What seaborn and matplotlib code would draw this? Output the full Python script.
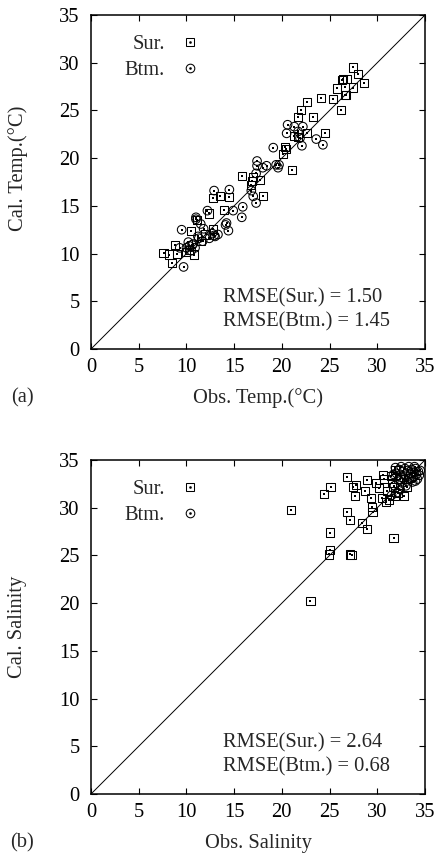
import matplotlib
matplotlib.use("Agg")
import matplotlib.pyplot as plt
from matplotlib.lines import Line2D
import seaborn as sns
import pandas as pd

# ---------------- data ----------------
# Panel (a): temperature (observed, calculated)
temp_sur_obs = [27.5, 28.0, 26.4, 26.8, 28.6, 27.5, 26.6, 25.8, 25.4, 26.6, 24.1, 22.6, 22.0, 26.2,
                21.7, 23.3, 24.5, 22.6, 21.3, 21.7, 20.1, 20.4, 21.1, 15.8, 16.9, 17.7, 16.8, 17.0,
                13.5, 14.5, 18.0, 12.8, 12.4, 13.9, 10.5, 12.8, 8.8, 7.6, 8.2, 8.5, 10.8, 9.0,
                11.1, 11.5, 10.3, 10.0, 12.0, 20.3, 26.3, 26.7]
temp_sur_cal = [29.5, 28.8, 28.3, 28.3, 27.9, 27.4, 27.5, 27.3, 26.2, 26.6, 26.3, 25.9, 25.0, 25.0,
                24.3, 24.3, 22.6, 22.6, 22.3, 22.2, 20.4, 21.0, 18.8, 18.1, 17.6, 17.7, 17.2, 18.0,
                16.0, 15.9, 16.0, 15.8, 14.2, 14.6, 12.4, 12.6, 10.9, 10.1, 9.9, 9.0, 9.9, 10.0,
                13.5, 11.3, 10.4, 10.2, 12.0, 21.2, 28.2, 26.6]
temp_btm_obs = [12.9, 14.5, 12.2, 14.9, 15.9, 15.8, 9.5, 11.0, 11.0, 11.5, 14.2, 14.4, 12.9, 13.3,
                9.7, 9.3, 10.0, 10.3, 10.7, 11.7, 12.4, 16.8, 17.3, 17.0, 17.4, 17.4, 18.0, 18.4,
                19.6, 19.4, 17.3, 20.6, 21.3, 20.5, 22.2, 22.1, 23.6, 24.3, 19.1, 19.7, 21.9, 21.7,
                11.2, 10.5, 10.9, 12.7, 13.0, 11.8, 10.2, 14.1, 10.6, 11.3]
temp_btm_cal = [16.6, 16.7, 14.5, 14.5, 14.9, 13.8, 12.5, 13.6, 13.8, 13.1, 13.2, 12.4, 11.9, 12.0,
                8.6, 10.6, 10.6, 10.8, 11.0, 11.3, 11.6, 16.6, 15.3, 16.0, 19.7, 19.2, 19.0, 19.2,
                19.0, 19.3, 18.4, 23.5, 23.3, 22.6, 23.3, 21.3, 22.0, 21.4, 21.1, 19.3, 22.1, 22.8,
                11.8, 10.3, 10.6, 12.1, 11.8, 12.6, 11.2, 13.0, 10.9, 11.6]

# Panel (b): salinity (observed, calculated)
sal_sur_obs = [21.0, 25.1, 24.4, 26.8, 27.5, 27.8, 27.7, 28.9, 28.7, 29.3, 29.9, 30.6, 30.7, 30.2,
               29.4, 29.5, 26.8, 27.1, 28.4, 28.9, 25.0, 31.7, 25.0, 24.9, 27.1, 27.3, 23.0, 33.1,
               32.8, 31.7, 31.9, 31.2, 30.9, 31.4, 31.9, 32.4, 31.0, 32.2, 30.5, 31.5]
sal_sur_cal = [29.8, 32.2, 31.4, 33.2, 32.2, 32.4, 31.2, 32.9, 31.8, 31.0, 32.6, 33.4, 33.0, 32.1,
               30.1, 29.6, 29.6, 28.7, 28.4, 27.8, 27.4, 26.8, 25.6, 25.1, 25.1, 25.0, 20.2, 32.2,
               31.2, 32.2, 31.2, 30.8, 30.6, 33.3, 34.0, 33.0, 31.8, 31.5, 31.0, 32.6]
sal_btm_obs = [32.0, 32.3, 32.5, 32.7, 32.9, 33.0, 33.2, 33.4, 33.5, 33.6, 33.8, 33.9, 34.0, 34.1,
               34.2, 34.3, 34.4, 33.1, 32.6, 33.7, 32.2, 31.8, 32.4, 31.7, 31.9, 33.3, 34.5, 32.8,
               33.6, 32.1, 31.5, 33.0, 34.0, 32.5, 33.9]
sal_btm_cal = [33.6, 34.0, 33.2, 33.8, 34.1, 33.4, 33.9, 33.1, 33.6, 34.0, 33.3, 33.7, 34.1, 33.5,
               33.0, 33.8, 33.4, 32.8, 32.6, 32.7, 32.9, 32.3, 31.9, 33.5, 34.2, 34.3, 33.9, 33.0,
               33.2, 31.6, 31.3, 32.3, 32.8, 34.3, 34.3]

series_labels = ["Sur.", "Btm."]
rmse_temp = ["1.50", "1.45"]
rmse_sal = ["2.64", "0.68"]
ticks = [0, 5, 10, 15, 20, 25, 30, 35]

# ---------------- style ----------------
sns.set_style("ticks")
plt.rcParams["font.family"] = ["Liberation Serif", "DejaVu Serif"]
plt.rcParams["mathtext.fontset"] = "stix"
FS = 14.8

W, H = 438, 856
fig = plt.figure(figsize=(W / 100, H / 100), dpi=100)

def px_axes(left, top, right, bottom):
    return fig.add_axes([left / W, 1 - bottom / H, (right - left) / W, (bottom - top) / H])

ax_a = px_axes(91, 15, 425, 349)
ax_b = px_axes(91, 460, 425, 794)

MS = 5.8  # marker size (points)

def draw(ax, sx, sy, bx, by, rmse, xlabel, ylabel, ylab_y):
    dfs = pd.DataFrame({"obs": sx, "cal": sy})
    dfb = pd.DataFrame({"obs": bx, "cal": by})
    ax.plot([0, 35], [0, 35], color="black", lw=0.7, zorder=1)
    sns.scatterplot(data=dfs, x="obs", y="cal", ax=ax, marker="s", s=MS ** 2,
                    facecolor="none", edgecolor="black", linewidth=0.75, zorder=2)
    sns.scatterplot(data=dfs, x="obs", y="cal", ax=ax, marker="s", s=0.6,
                    color="black", linewidth=0, zorder=2)
    sns.scatterplot(data=dfb, x="obs", y="cal", ax=ax, marker="o", s=(MS + 0.4) ** 2,
                    facecolor="none", edgecolor="black", linewidth=0.75, zorder=3)
    sns.scatterplot(data=dfb, x="obs", y="cal", ax=ax, marker="s", s=0.6,
                    color="black", linewidth=0, zorder=3)
    ax.set_xlim(0, 35)
    ax.set_ylim(0, 35)
    ax.set_xticks(ticks)
    ax.set_yticks(ticks)
    ax.set_xticklabels([str(t) for t in ticks])
    ax.set_yticklabels([str(t) for t in ticks])
    ax.tick_params(direction="in", length=4, width=0.8, top=True, right=True,
                   labelsize=FS, color="black", labelcolor="black")
    ax.tick_params(axis="x", pad=6.5)
    ax.tick_params(axis="y", pad=8)
    for sp in ax.spines.values():
        sp.set_visible(True)
        sp.set_linewidth(1.1)
        sp.set_color("black")
    ax.set_xlabel(xlabel, fontsize=FS)
    ax.set_ylabel(ylabel, fontsize=FS)
    ax.xaxis.set_label_coords(0.5, -0.147)
    ax.xaxis.label.set_va("center")
    ax.yaxis.set_label_coords(-0.2186, ylab_y)
    ax.yaxis.label.set_va("center")

    # RMSE annotation
    ax.text(13.8, 5.35, f"RMSE({series_labels[0]}) = {rmse[0]}", fontsize=FS,
            ha="left", va="center")
    ax.text(13.8, 2.8, f"RMSE({series_labels[1]}) = {rmse[1]}", fontsize=FS,
            ha="left", va="center")

    # legend (text first, symbol after)
    h_sur = (Line2D([], [], marker="s", ms=MS, mfc="none", mec="black", mew=0.75, ls="none"),
             Line2D([], [], marker="s", ms=0.8, color="black", ls="none"))
    h_btm = (Line2D([], [], marker="o", ms=MS + 0.4, mfc="none", mec="black", mew=0.75, ls="none"),
             Line2D([], [], marker="s", ms=0.8, color="black", ls="none"))
    leg = ax.legend([h_sur, h_btm], series_labels, loc="upper left",
                    bbox_to_anchor=(0.1, 0.94), frameon=False, markerfirst=False,
                    fontsize=FS, handlelength=0.9, handletextpad=0.8, labelspacing=0.3,
                    borderpad=0, borderaxespad=0)
    for t in leg.get_texts():
        t.set_ha("right")

draw(ax_a, temp_sur_obs, temp_sur_cal, temp_btm_obs, temp_btm_cal, rmse_temp,
     "Obs. Temp.(°C)", "Cal. Temp.(°C)", 0.542)
draw(ax_b, sal_sur_obs, sal_sur_cal, sal_btm_obs, sal_btm_cal, rmse_sal,
     "Obs. Salinity", "Cal. Salinity", 0.5)

fig.text(22 / W, 1 - 398 / H, "(a)", fontsize=FS, ha="center", va="center")
fig.text(22 / W, 1 - 843 / H, "(b)", fontsize=FS, ha="center", va="center")

fig.savefig("out.png", dpi=100)
